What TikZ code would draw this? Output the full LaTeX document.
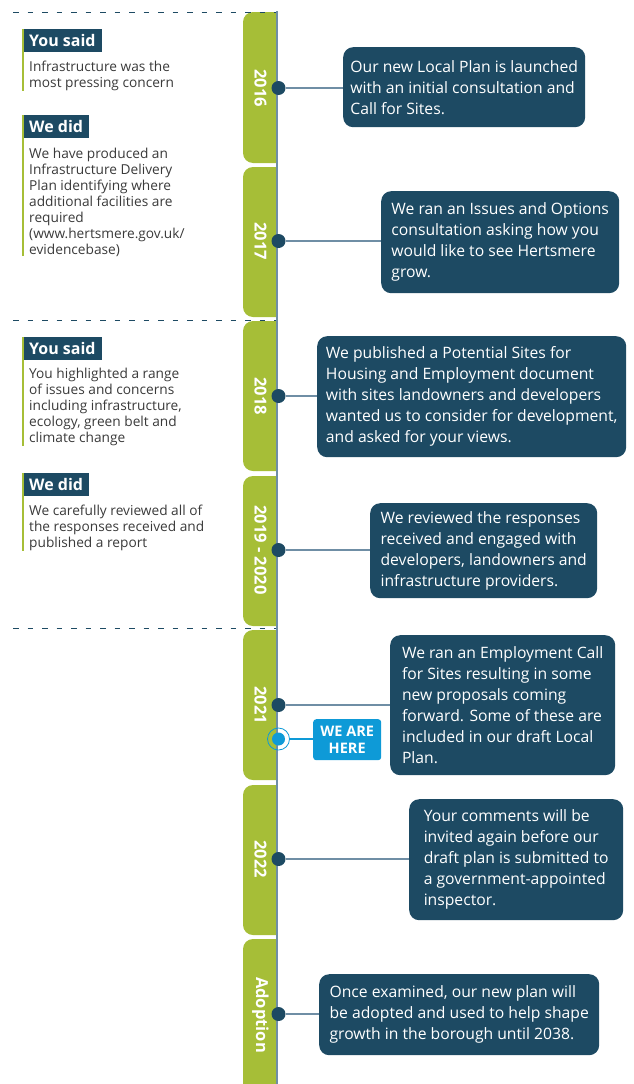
\documentclass[tikz,border=0pt]{standalone}
\usepackage{fontspec}
\setmainfont{Open Sans}
\definecolor{navy}{HTML}{1D4A63}
\definecolor{leaf}{HTML}{A6BE37}
\definecolor{sky}{HTML}{0E9AD7}
\definecolor{rail}{HTML}{6F8EA5}
\definecolor{ink}{HTML}{3A3A3A}
\begin{document}
\begin{tikzpicture}[x=1pt,y=-1pt,
  event/.style={fill=navy, rounded corners=10pt, text=white, align=left,
    anchor=north west, inner sep=0pt,
    font=\fontsize{15.7}{21}\selectfont},
  dot/.style={circle, fill=navy, inner sep=0pt, minimum size=14pt},
  conn/.style={rail, line width=1.2pt},
  year/.style={rotate=-90, text=white, font=\fontsize{16.5}{17}\selectfont\bfseries},
  tag/.style={fill=navy, text=white, anchor=north west, inner xsep=6pt,
    inner ysep=0pt, minimum height=23pt, font=\fontsize{16}{16}\selectfont\bfseries},
  note/.style={anchor=north west, inner sep=0pt, align=left, text=ink,
    font=\fontsize{13.7}{16}\selectfont},
  bar/.style={leaf, line width=1.2pt},
  divider/.style={navy, line width=1pt, dash pattern=on 5.5pt off 9pt}]
\useasboundingbox (0,0) rectangle (633,1084);

% green year tabs, rounded on the left only
\begin{scope}
  \clip (0,0) rectangle (277,1084);
  \foreach \t/\b in {12/163,167/317,321/471,476/626,630/780,785/935,939/1100}
    \fill[leaf, rounded corners=10pt] (243,\t) rectangle (300,\b);
\end{scope}

% section dividers
\draw[divider] (13,12) -- (277,12);
\draw[divider] (13,320) -- (277,320);
\draw[divider] (13,628) -- (277,628);

% timeline rail
\draw[rail, line width=2pt] (277,11) -- (277,1084);

% year labels
\node[year] (y1) at (260.5,88) {2016};
\node[year] (y2) at (260.5,241) {2017};
\node[year] (y3) at (260.5,396) {2018};
\node[year] (y4) at (260.5,550) {2019 - 2020};
\node[year] (y5) at (260.5,705) {2021};
\node[year] (y6) at (260.5,859) {2022};
\node[year] (y7) at (260.5,1015) {Adoption};

% event boxes
\node[event, minimum width=242pt, minimum height=80pt] (e1) at (343,47)
  {Our new Local Plan is launched\\with an initial consultation and\\Call for Sites.};
\node[event, minimum width=238pt, minimum height=102pt] (e2) at (381,191)
  {We ran an Issues and Options\\consultation asking how you\\would like to see Hertsmere\\grow.};
\node[event, minimum width=309pt, minimum height=121pt] (e3) at (317,336)
  {We published a Potential Sites for\\Housing and Employment document\\with sites landowners and developers\\wanted us to consider for development,\\and asked for your views.};
\node[event, minimum width=227pt, minimum height=95pt] (e4) at (370,503)
  {We reviewed the responses\\received and engaged with\\developers, landowners and\\infrastructure providers.};
\node[event, minimum width=225pt, minimum height=140pt] (e5) at (390,635)
  {We ran an Employment Call\\for Sites resulting in some\\new proposals coming\\forward. Some of these are\\included in our draft Local\\Plan.};
\node[event, minimum width=214pt, minimum height=121pt] (e6) at (409,799)
  {Your comments will be\\invited again before our\\draft plan is submitted to\\a government-appointed\\inspector.};
\node[event, minimum width=280pt, minimum height=81pt] (e7) at (319,974)
  {Once examined, our new plan will\\be adopted and used to help shape\\growth in the borough until 2038.};

% timeline dots and their connectors
\foreach \i/\y in {1/88,2/241,3/396,4/550,5/705,6/859,7/1014} {
  \node[dot] (d\i) at (278.5,\y) {};
  \draw[conn] (d\i.east) -- (d\i -| e\i.west);
}

% current position marker
\node[circle, draw=sky, line width=0.8pt, minimum size=22pt, inner sep=0pt] (ring) at (278.5,739) {};
\node[circle, fill=sky, minimum size=13pt, inner sep=0pt] (now) at (278.5,739) {};
\node[fill=sky, rounded corners=3pt, text=white, align=center, anchor=north west,
  minimum width=68pt, minimum height=41pt, inner sep=0pt,
  font=\fontsize{14.5}{16.5}\selectfont\bfseries] (here) at (313,719) {WE ARE\\HERE};
\draw[sky, line width=1.2pt] (ring.east) -- (ring -| here.west);

% left column: you said / we did
\node[tag] (s1) at (23,29) {You said};
\node[note] (t1) at (29,60.5) {Infrastructure was the\\most pressing concern};
\draw[bar] (s1.north west) -- (s1.west |- t1.south);

\node[tag] (s2) at (23,115) {We did};
\node[note] (t2) at (29,147.5) {We have produced an\\Infrastructure Delivery\\Plan identifying where\\additional facilities are\\required\\(www.hertsmere.gov.uk/\\evidencebase)};
\draw[bar] (s2.north west) -- (s2.west |- t2.south);

\node[tag] (s3) at (23,337) {You said};
\node[note] (t3) at (29,367.5) {You highlighted a range\\of issues and concerns\\including infrastructure,\\ecology, green belt and\\climate change};
\draw[bar] (s3.north west) -- (s3.west |- t3.south);

\node[tag] (s4) at (23,473) {We did};
\node[note] (t4) at (29,504.5) {We carefully reviewed all of\\the responses received and\\published a report};
\draw[bar] (s4.north west) -- (s4.west |- t4.south);
\end{tikzpicture}
\end{document}
